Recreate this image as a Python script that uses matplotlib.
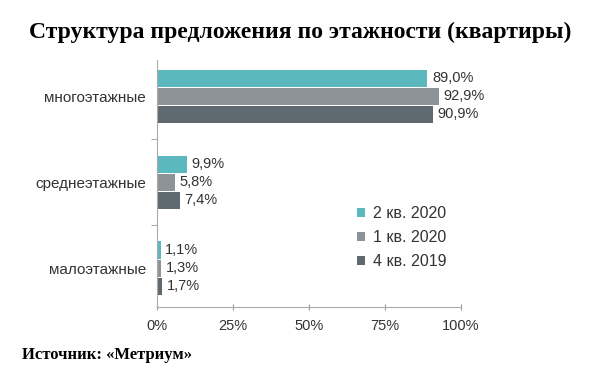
import matplotlib.pyplot as plt
import numpy as np

categories = ["малоэтажные", "среднеэтажные", "многоэтажные"]
series_names = ["2 кв. 2020", "1 кв. 2020", "4 кв. 2019"]
q2_2020 = [1.1, 9.9, 89.0]
q1_2020 = [1.3, 5.8, 92.9]
q4_2019 = [1.7, 7.4, 90.9]
xticks = [0, 25, 50, 75, 100]

colors = ["#5bb8bd", "#8c9399", "#5f6a70"]

plt.rcParams['font.family'] = ['Liberation Sans', 'DejaVu Sans']

fig = plt.figure(figsize=(6, 3.85), dpi=100)
ax = fig.add_axes([0.262, 0.203, 0.506, 0.641])

y = np.arange(len(categories))
h = 0.2
offsets = [0.21, 0.0, -0.21]
for vals, name, c, off in zip([q2_2020, q1_2020, q4_2019], series_names, colors, offsets):
    bars = ax.barh(y + off, vals, height=h, color=c, label=name)
    for b, v in zip(bars, vals):
        ax.text(v + 1.5, b.get_y() + h / 2, f"{v:.1f}%".replace(".", ","),
                va="center", ha="left", fontsize=10.5, color="#333333")

ax.set_xlim(0, 100)
ax.set_ylim(-0.45, 2.42)
ax.set_xticks(xticks)
ax.set_xticklabels([f"{t}%" for t in xticks], fontsize=10.5, color="#333333")
ax.set_yticks(y)
ax.set_yticklabels(categories, fontsize=11, color="#333333")
ax.set_yticks([0.5, 1.5], minor=True)
ax.tick_params(axis="y", which="major", length=0, pad=8)
ax.tick_params(axis="y", which="minor", length=4, color="#999999")
ax.tick_params(axis="x", direction="inout", length=5, color="#999999", pad=6)
for s in ["top", "right"]:
    ax.spines[s].set_visible(False)
for s in ["left", "bottom"]:
    ax.spines[s].set_color("#aaaaaa")

leg = ax.legend(loc="lower right", bbox_to_anchor=(1.0, 0.095), frameon=False,
                fontsize=11.5, handlelength=0.5, handleheight=0.5, handletextpad=0.5,
                labelspacing=0.55, labelcolor="#333333")

fig.text(0.5, 0.915, "Структура предложения по этажности (квартиры)",
         ha="center", va="center", fontsize=17, fontweight="bold",
         family="Liberation Serif")
fig.text(0.037, 0.078, "Источник: «Метриум»", ha="left", va="center",
         fontsize=12, fontweight="bold", family="Liberation Serif")

plt.savefig("out.png", dpi=100)
